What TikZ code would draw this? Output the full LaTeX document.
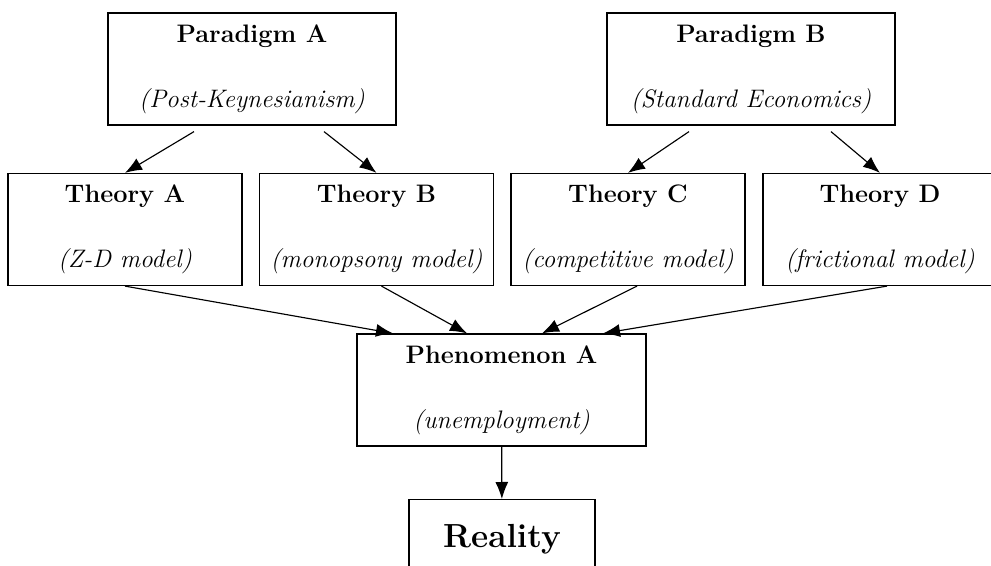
\documentclass[tikz,border=0pt]{standalone}
\usepackage{amsmath,amssymb}
\usepackage{tikz}
\usetikzlibrary{arrows.meta}

\begin{document}
\begin{tikzpicture}[
  box/.style={draw,line width=0.7pt,align=center,font=\Large,minimum height=2.24cm,inner sep=2pt},
  parbox/.style={box,minimum width=5.76cm},
  thbox/.style={box,minimum width=4.68cm},
  arr/.style={-{Latex[length=3.4mm,width=2.6mm]},line width=0.65pt}]
\useasboundingbox (0,0) rectangle (19.82,-11.32);
\node[parbox] (PA) at (5.04,-1.38){\textbf{Paradigm A}\\[19pt]\textit{(Post-Keynesianism)}};
\node[parbox] (PB) at (15.02,-1.38){\textbf{Paradigm B}\\[19pt]\textit{(Standard Economics)}};
\node[thbox] (TA) at (2.5,-4.59){\textbf{Theory A}\\[19pt]\textit{(Z-D model)}};
\node[thbox] (TB) at (7.53,-4.59){\textbf{Theory B}\\[19pt]\textit{(monopsony model)}};
\node[thbox] (TC) at (12.56,-4.59){\textbf{Theory C}\\[19pt]\textit{(competitive model)}};
\node[thbox] (TD) at (17.6,-4.59){\textbf{Theory D}\\[19pt]\textit{(frictional model)}};
\node[box,minimum width=5.78cm] (PH) at (10.03,-7.8){\textbf{Phenomenon A}\\[19pt]\textit{(unemployment)}};
\node[draw,line width=0.7pt,minimum width=3.72cm,minimum height=1.6cm,anchor=north,font=\fontsize{19}{23}\selectfont\bfseries] (RE) at (10.04,-9.98){Reality};

\foreach \from/\to/\dx in {PA/TA/-1.16,PA/TB/1.44,PB/TC/-1.24,PB/TD/1.6}
\draw[arr] ([xshift=\dx cm,yshift=-0.12cm]\from.south) -- (\to.north);
\foreach \from/\sx/\ex in {TA/0/-2.17,TB/0.1/-0.69,TC/0.18/0.81,TD/0.14/2.03}
\draw[arr] ([xshift=\sx cm]\from.south) -- ([xshift=\ex cm]PH.north);
\draw[arr] (PH) -- (RE);
\end{tikzpicture}
\end{document}
